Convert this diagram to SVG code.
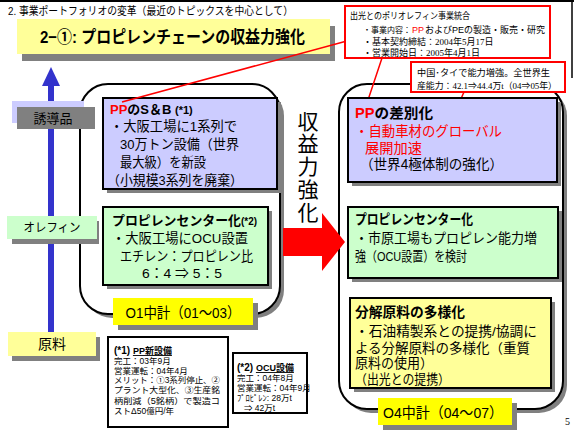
<svg xmlns="http://www.w3.org/2000/svg" width="574" height="432" viewBox="0 0 574 432">
<style>
text{font-family:"Liberation Sans","Noto Sans CJK JP",sans-serif;fill:#000}
.b{font-weight:bold}
.r{fill:#ff0000}
.sh{fill:#808080}
.lav{fill:#ccccff;stroke:#000;stroke-width:2}
.grn{fill:#ccffcc;stroke:#000;stroke-width:2}
.yel{fill:#ffff99;stroke:#000;stroke-width:2}
.ylab{fill:#ffff00}
.rb{fill:#fff;stroke:#000;stroke-width:2}
.call{fill:#fff;stroke:#ff0000;stroke-width:2}
.fn{fill:#fff;stroke:#000;stroke-width:2}
.s{font-family:"Liberation Serif","Noto Sans CJK JP",serif}
.t13{font-size:13.5px}
.t9{font-size:8.5px}
.c9{font-size:9px}
.red-line{stroke:#ff0000;stroke-width:1.5}
</style>
<rect width="574" height="432" fill="#fff"/>
<line x1="0" y1="1" x2="574" y2="1" stroke="#000" stroke-width="2"/>
<line x1="572" y1="0" x2="572" y2="78" stroke="#000" stroke-width="1.5"/>

<g id="header">
<text x="8" y="15" font-size="11" textLength="285" lengthAdjust="spacingAndGlyphs">2. 事業ポートフォリオの変革（最近のトピックスを中心として）</text>
</g>

<g id="title">
<rect x="22" y="26" width="313" height="35" class="sh"/>
<rect x="17" y="19" width="313" height="35" fill="#ffff99"/>
<text x="40" y="43" font-size="17" class="b" textLength="265" lengthAdjust="spacingAndGlyphs">2−①: プロピレンチェーンの収益力強化</text>
</g>

<g id="axis">
<rect x="48" y="85" width="6" height="248" fill="#3333cc"/>
<polygon points="42,86 51,67 60,86" fill="#3333cc"/>
</g>

<g id="box-left">
<rect x="84" y="88" width="200" height="230" rx="28" class="sh"/>
<rect x="80" y="84" width="200" height="230" rx="28" class="rb"/>
</g>
<g id="box-right">
<rect x="343" y="88" width="224" height="325" rx="28" class="sh"/>
<rect x="339" y="84" width="224" height="325" rx="28" class="rb"/>
</g>

<g id="label-derivatives">
<rect x="12" y="101" width="72" height="22" fill="#ccccff"/>
<rect x="17" y="107" width="78" height="22" fill="#808080"/>
<text x="53" y="123" font-size="13" text-anchor="middle">誘導品</text>
</g>
<g id="label-olefin">
<rect x="12" y="221" width="87" height="23" class="sh"/>
<rect x="7" y="216" width="90" height="23" fill="#ccffcc"/>
<text x="52" y="232" font-size="12.5" text-anchor="middle" textLength="57" lengthAdjust="spacingAndGlyphs">オレフィン</text>
</g>
<g id="label-feedstock">
<rect x="12" y="337" width="88" height="24" class="sh"/>
<rect x="8" y="332" width="88" height="24" fill="#ffff99"/>
<text x="52" y="349" font-size="14" text-anchor="middle">原料</text>
</g>

<g id="pp-sb">
<rect x="107" y="102" width="174" height="91" class="sh"/>
<rect x="103" y="98" width="174" height="91" class="lav"/>
<text x="110" y="114" font-size="13" class="b"><tspan class="r">PP</tspan>のS＆B <tspan font-size="11">(*1)</tspan></text>
<text x="110" y="131" class="t13" textLength="127" lengthAdjust="spacingAndGlyphs">・大阪工場に1系列で</text>
<text x="120" y="149" class="t13" textLength="119" lengthAdjust="spacingAndGlyphs">30万トン設備（世界</text>
<text x="120" y="167" class="t13" textLength="86" lengthAdjust="spacingAndGlyphs">最大級）を新設</text>
<text x="107" y="185" class="t13" textLength="136" lengthAdjust="spacingAndGlyphs">（小規模3系列を廃棄）</text>
</g>

<g id="center-1">
<rect x="107" y="211" width="165" height="78" class="sh"/>
<rect x="103" y="207" width="165" height="78" class="grn"/>
<text x="112" y="225" font-size="13" class="b" textLength="145" lengthAdjust="spacingAndGlyphs">プロピレンセンター化<tspan font-size="10">(*2)</tspan></text>
<text x="112" y="243" class="t13" textLength="136" lengthAdjust="spacingAndGlyphs">・大阪工場にOCU設置</text>
<text x="120" y="261" class="t13" textLength="133" lengthAdjust="spacingAndGlyphs">エチレン：プロピレン比</text>
<text x="142" y="278" class="t13" textLength="80" lengthAdjust="spacingAndGlyphs">6：4 ⇒ 5：5</text>
</g>

<g id="plan-01">
<rect x="118" y="303" width="140" height="27" class="sh"/>
<rect x="113" y="298" width="140" height="27" class="ylab"/>
<text x="183" y="318" font-size="15" text-anchor="middle" textLength="115" lengthAdjust="spacingAndGlyphs">O1中計（01〜03）</text>
</g>

<g id="connectors">
<polygon points="283,228 322,228 322,213 345,242 322,271 322,256 283,256" fill="#ff0000"/>
<line x1="345" y1="41.5" x2="122" y2="102" class="red-line"/>
<line x1="382" y1="58" x2="367" y2="103" class="red-line"/>
<line x1="464" y1="92" x2="451" y2="121" class="red-line"/>
</g>

<g id="label-profit">
<text x="308" y="129" font-size="21" text-anchor="middle">収</text>
<text x="308" y="151" font-size="21" text-anchor="middle">益</text>
<text x="308" y="174" font-size="21" text-anchor="middle">力</text>
<text x="308" y="197" font-size="21" text-anchor="middle">強</text>
<text x="308" y="220" font-size="21" text-anchor="middle">化</text>
</g>

<g id="pp-diff">
<rect x="352" y="102" width="209" height="84" class="sh"/>
<rect x="348" y="98" width="209" height="84" class="lav"/>
<text x="355" y="118" font-size="14" class="b" textLength="78" lengthAdjust="spacingAndGlyphs"><tspan class="r">PP</tspan>の差別化</text>
<text x="355" y="136" font-size="14" class="r" textLength="147" lengthAdjust="spacingAndGlyphs">・自動車材のグローバル</text>
<text x="365" y="153" font-size="14" class="r" textLength="57" lengthAdjust="spacingAndGlyphs">展開加速</text>
<text x="360" y="169" font-size="14" textLength="143" lengthAdjust="spacingAndGlyphs">（世界4極体制の強化）</text>
</g>

<g id="center-2">
<rect x="352" y="211" width="210" height="71" class="sh"/>
<rect x="348" y="207" width="210" height="71" class="grn"/>
<text x="355" y="224" font-size="13.5" class="b" textLength="118" lengthAdjust="spacingAndGlyphs">プロピレンセンター化</text>
<text x="355" y="243" font-size="13.5" textLength="182" lengthAdjust="spacingAndGlyphs">・市原工場もプロピレン能力増</text>
<text x="355" y="261" font-size="13.5" textLength="112" lengthAdjust="spacingAndGlyphs">強（OCU設置）を検討</text>
</g>

<g id="feedstock-div">
<rect x="354" y="302" width="201" height="90" class="sh"/>
<rect x="350" y="298" width="201" height="90" class="yel"/>
<text x="355" y="317" font-size="13.5" class="b" textLength="110" lengthAdjust="spacingAndGlyphs">分解原料の多様化</text>
<text x="355" y="336" font-size="13.5" textLength="182" lengthAdjust="spacingAndGlyphs">・石油精製系との提携/協調に</text>
<text x="355" y="353" font-size="13.5" textLength="175" lengthAdjust="spacingAndGlyphs">よる分解原料の多様化（重質</text>
<text x="355" y="368" font-size="13.5" textLength="78" lengthAdjust="spacingAndGlyphs">原料の使用）</text>
<text x="355" y="384" font-size="13.5" textLength="95" lengthAdjust="spacingAndGlyphs">（出光との提携）</text>
</g>

<g id="plan-04">
<rect x="383" y="403" width="134" height="27" class="sh"/>
<rect x="378" y="398" width="134" height="27" class="ylab"/>
<text x="443" y="418" font-size="15" text-anchor="middle" textLength="120" lengthAdjust="spacingAndGlyphs">O4中計（04〜07）</text>
</g>

<g id="callout-idemitsu">
<rect x="345" y="6" width="205" height="52" class="call"/>
<text x="350" y="18.5" class="c9" textLength="120" lengthAdjust="spacingAndGlyphs">出光とのポリオレフィン事業統合</text>
<text x="363" y="32.5" font-size="8">・事業内容：</text>
<text x="412" y="32.5" class="c9 r">PP</text>
<text x="425" y="32.5" class="c9">およびPEの製造・販売・研究</text>
<text x="363" y="44.5" class="c9">・基本契約締結：<tspan class="s">2004</tspan>年<tspan class="s">5</tspan>月<tspan class="s">17</tspan>日</text>
<text x="363" y="55.5" class="c9">・営業開始日：<tspan class="s">2005</tspan>年<tspan class="s">4</tspan>月<tspan class="s">1</tspan>日</text>
</g>

<g id="callout-capacity">
<rect x="411" y="62" width="154" height="30" class="call"/>
<text x="417" y="76" class="c9" textLength="133" lengthAdjust="spacingAndGlyphs">中国･タイで能力増強。全世界生</text>
<text x="417" y="88.5" class="c9" textLength="140" lengthAdjust="spacingAndGlyphs">産能力：<tspan class="s">42.1</tspan>⇒<tspan class="s">44.4</tspan>万<tspan class="s">t（04</tspan>⇒<tspan class="s">05</tspan>年）</text>
</g>

<g id="note-1">
<rect x="108" y="337" width="120" height="90" class="fn"/>
<text x="114" y="354" font-size="10" class="b">(*1) <tspan font-size="9" text-decoration="underline">PP新設備</tspan></text>
<text x="114" y="364" class="t9">完工：03年9月</text>
<text x="114" y="373.5" class="t9">営業運転：04年4月</text>
<text x="114" y="383" class="t9" textLength="106" lengthAdjust="spacingAndGlyphs">メリット：①3系列停止、②</text>
<text x="114" y="393" class="t9" textLength="106" lengthAdjust="spacingAndGlyphs">プラント大型化、③生産銘</text>
<text x="114" y="403.5" class="t9" textLength="106" lengthAdjust="spacingAndGlyphs">柄削減（5銘柄）で製造コ</text>
<text x="114" y="414" class="t9">ストΔ50億円/年</text>
</g>

<g id="note-2">
<rect x="233" y="353" width="74" height="60" class="fn"/>
<text x="237" y="371" font-size="10" class="b">(*2) <tspan font-size="9" text-decoration="underline">OCU設備</tspan></text>
<text x="237" y="381" class="t9">完工：04年8月</text>
<text x="237" y="391" class="t9">営業運転：04年9月</text>
<text x="237" y="401" class="t9">ﾌﾟﾛﾋﾟﾚﾝ: 28万t</text>
<text x="244" y="410.5" class="t9">⇒ 42万t</text>
</g>

<g id="page-number">
<text x="565" y="425" font-size="10" class="s">5</text>
</g>
</svg>
